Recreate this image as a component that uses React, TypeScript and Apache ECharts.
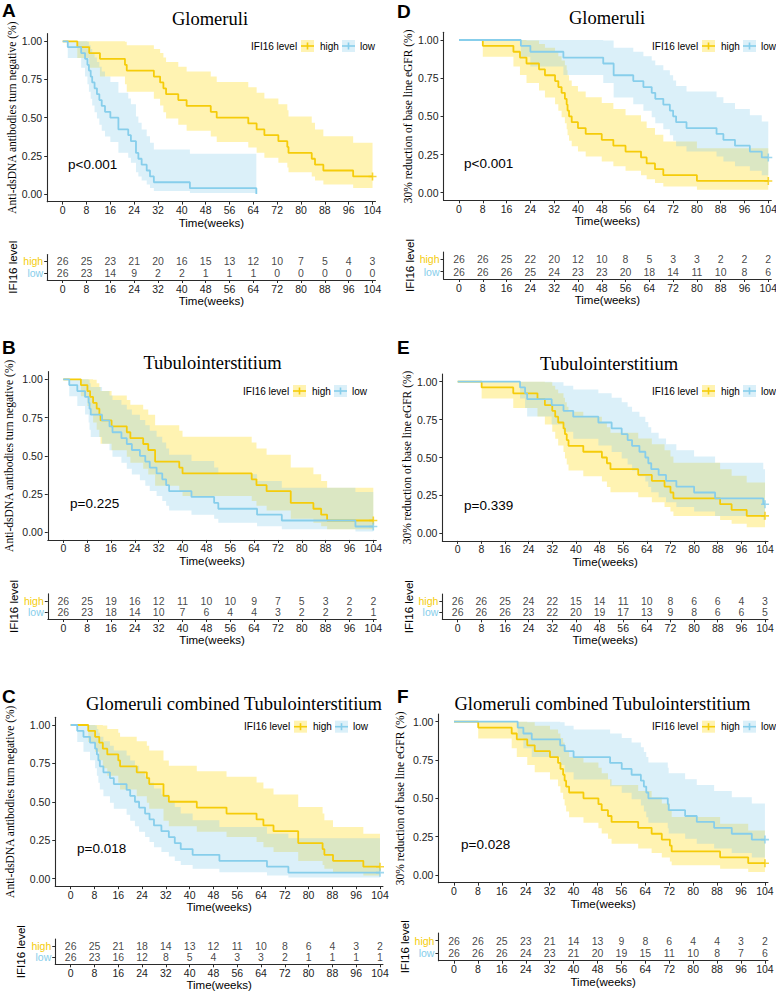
import React, { useEffect, useRef } from 'react';
import * as echarts from 'echarts';

// ---------- shared ticks / labels ----------
const TIME_TICKS = [0, 8, 16, 24, 32, 40, 48, 56, 64, 72, 80, 88, 96, 104];
const Y_TICKS = [0, 0.25, 0.5, 0.75, 1];
const GROUPS = ['high', 'low'];
const Y_TITLE_ANTI = 'Anti-dsDNA antibodies turn negative (%)';
const Y_TITLE_EGFR = '30% reduction of base line eGFR (%)';
const TITLES = ['Glomeruli', 'Glomeruli', 'Tubulointerstitium', 'Tubulointerstitium', 'Glomeruli combined Tubulointerstitium', 'Glomeruli combined Tubulointerstitium'];
const LETTERS = ['A', 'D', 'B', 'E', 'C', 'F'];
const P_VALUES = ['p<0.001', 'p<0.001', 'p=0.225', 'p=0.339', 'p=0.018', 'p=0.028'];

// ---------- Panel A (Glomeruli, anti-dsDNA) ----------
const A_HIGH_T = [0, 4.9, 8.9, 12.5, 20.9, 21.5, 30.6, 32.7, 33.8, 34.7, 38.8, 41.6, 49.7, 51.7, 62.3, 65.1, 67.7, 72.4, 75.4, 75.8, 83.6, 84.7, 87.5, 97.5, 104];
const A_HIGH_S = [1, 0.962, 0.923, 0.885, 0.846, 0.808, 0.769, 0.731, 0.692, 0.654, 0.615, 0.577, 0.538, 0.5, 0.462, 0.423, 0.385, 0.346, 0.308, 0.269, 0.231, 0.192, 0.154, 0.115, 0.115];
const A_HIGH_LO = [1, 0.89, 0.826, 0.77, 0.718, 0.67, 0.623, 0.579, 0.536, 0.494, 0.454, 0.415, 0.377, 0.341, 0.305, 0.27, 0.237, 0.204, 0.173, 0.143, 0.114, 0.088, 0.063, 0.04, 0.04];
const A_HIGH_HI = [1, 1, 1, 1, 0.997, 0.974, 0.949, 0.923, 0.894, 0.865, 0.834, 0.802, 0.769, 0.734, 0.699, 0.663, 0.625, 0.587, 0.548, 0.507, 0.466, 0.423, 0.379, 0.335, 0.335];
const A_LOW_T = [0, 1.7, 6.2, 7.5, 8.3, 8.8, 9.4, 9.9, 10.7, 11.5, 12.3, 13.1, 14.2, 16.0, 18.7, 22.0, 22.9, 24.6, 25.4, 26.5, 28.2, 29.3, 30.6, 42.7, 65];
const A_LOW_S = [1, 0.962, 0.923, 0.885, 0.846, 0.808, 0.769, 0.731, 0.692, 0.654, 0.615, 0.577, 0.538, 0.5, 0.423, 0.385, 0.346, 0.269, 0.231, 0.192, 0.154, 0.115, 0.077, 0.038, 0];
const A_LOW_LO = [1, 0.89, 0.826, 0.77, 0.718, 0.67, 0.623, 0.579, 0.536, 0.494, 0.454, 0.415, 0.377, 0.341, 0.27, 0.237, 0.204, 0.143, 0.114, 0.088, 0.063, 0.04, 0.02, 0.006, 0.006];
const A_LOW_HI = [1, 1, 1, 1, 0.997, 0.974, 0.949, 0.923, 0.894, 0.865, 0.834, 0.802, 0.769, 0.734, 0.663, 0.625, 0.587, 0.507, 0.466, 0.423, 0.379, 0.335, 0.291, 0.263, 0.263];
const A_RISK_HIGH = [26, 25, 23, 21, 20, 16, 15, 13, 12, 10, 7, 5, 4, 3];
const A_RISK_LOW = [26, 23, 14, 9, 2, 2, 1, 1, 1, 0, 0, 0, 0, 0];

// ---------- Panel D (Glomeruli, eGFR) ----------
const D_HIGH_T = [0, 8.0, 18.3, 20.5, 22.7, 26.9, 28.9, 32.3, 33.4, 34.5, 35.6, 36.2, 36.5, 37.0, 37.9, 40.0, 42.6, 48.0, 51.9, 56.0, 61.2, 63.1, 65.9, 68.7, 80.0, 104];
const D_HIGH_S = [1, 0.962, 0.923, 0.885, 0.846, 0.808, 0.769, 0.731, 0.692, 0.654, 0.615, 0.577, 0.538, 0.5, 0.462, 0.423, 0.385, 0.346, 0.308, 0.269, 0.231, 0.192, 0.154, 0.115, 0.077, 0.077];
const D_HIGH_LO = [1, 0.89, 0.826, 0.77, 0.718, 0.67, 0.623, 0.579, 0.536, 0.494, 0.454, 0.415, 0.377, 0.341, 0.305, 0.27, 0.237, 0.204, 0.173, 0.143, 0.114, 0.088, 0.063, 0.04, 0.02, 0.02];
const D_HIGH_HI = [1, 1, 1, 1, 0.997, 0.974, 0.949, 0.923, 0.894, 0.865, 0.834, 0.802, 0.769, 0.734, 0.699, 0.663, 0.625, 0.587, 0.548, 0.507, 0.466, 0.423, 0.379, 0.335, 0.291, 0.291];
const D_LOW_T = [0, 20.8, 24.0, 35.1, 48.5, 52.0, 58.6, 62.0, 64.8, 66.0, 68.7, 70.9, 72.0, 73.0, 76.5, 86.6, 88.9, 92.8, 97.8, 101.8, 104];
const D_LOW_S = [1, 0.962, 0.923, 0.885, 0.846, 0.769, 0.731, 0.692, 0.654, 0.615, 0.577, 0.538, 0.5, 0.462, 0.423, 0.385, 0.346, 0.308, 0.269, 0.231, 0.231];
const D_LOW_LO = [1, 0.89, 0.826, 0.77, 0.718, 0.623, 0.579, 0.536, 0.494, 0.454, 0.415, 0.377, 0.341, 0.305, 0.27, 0.237, 0.204, 0.173, 0.143, 0.114, 0.114];
const D_LOW_HI = [1, 1, 1, 1, 0.997, 0.949, 0.923, 0.894, 0.865, 0.834, 0.802, 0.769, 0.734, 0.699, 0.663, 0.625, 0.587, 0.548, 0.507, 0.466, 0.466];
const D_RISK_HIGH = [26, 26, 25, 22, 20, 12, 10, 8, 5, 3, 3, 2, 2, 2];
const D_RISK_LOW = [26, 26, 26, 25, 24, 23, 23, 20, 18, 14, 11, 10, 8, 6];

// ---------- Panel B (Tubulointerstitium, anti-dsDNA) ----------
const B_HIGH_T = [0, 5.9, 8.1, 9.0, 10.0, 11.2, 12.1, 12.5, 16.2, 21.3, 22.5, 26.8, 28.5, 30.8, 38.9, 40.0, 63.2, 64.8, 68.2, 76.3, 83.9, 86.5, 88.5, 104];
const B_HIGH_S = [1, 0.962, 0.923, 0.885, 0.846, 0.808, 0.769, 0.731, 0.692, 0.654, 0.615, 0.577, 0.538, 0.462, 0.423, 0.385, 0.346, 0.308, 0.269, 0.192, 0.154, 0.115, 0.077, 0.077];
const B_HIGH_LO = [1, 0.89, 0.826, 0.77, 0.718, 0.67, 0.623, 0.579, 0.536, 0.494, 0.454, 0.415, 0.377, 0.305, 0.27, 0.237, 0.204, 0.173, 0.143, 0.088, 0.063, 0.04, 0.02, 0.02];
const B_HIGH_HI = [1, 1, 1, 1, 0.997, 0.974, 0.949, 0.923, 0.894, 0.865, 0.834, 0.802, 0.769, 0.699, 0.663, 0.625, 0.587, 0.548, 0.507, 0.423, 0.379, 0.335, 0.291, 0.291];
const B_LOW_T = [0, 2.0, 4.7, 7.3, 8.5, 8.8, 9.2, 13.0, 15.5, 16.5, 19.5, 21.3, 23.0, 25.7, 27.5, 29.0, 31.3, 33.2, 34.5, 35.5, 43.0, 50.6, 52.0, 65.0, 73.3, 98.0, 104];
const B_LOW_S = [1, 0.962, 0.923, 0.885, 0.846, 0.808, 0.769, 0.731, 0.692, 0.654, 0.615, 0.577, 0.538, 0.5, 0.462, 0.423, 0.385, 0.346, 0.308, 0.269, 0.231, 0.192, 0.154, 0.115, 0.077, 0.038, 0.038];
const B_LOW_LO = [1, 0.89, 0.826, 0.77, 0.718, 0.67, 0.623, 0.579, 0.536, 0.494, 0.454, 0.415, 0.377, 0.341, 0.305, 0.27, 0.237, 0.204, 0.173, 0.143, 0.114, 0.088, 0.063, 0.04, 0.02, 0.006, 0.006];
const B_LOW_HI = [1, 1, 1, 1, 0.997, 0.974, 0.949, 0.923, 0.894, 0.865, 0.834, 0.802, 0.769, 0.734, 0.699, 0.663, 0.625, 0.587, 0.548, 0.507, 0.466, 0.423, 0.379, 0.335, 0.291, 0.263, 0.263];
const B_RISK_HIGH = [26, 25, 19, 16, 12, 11, 10, 10, 9, 7, 5, 3, 2, 2];
const B_RISK_LOW = [26, 23, 18, 14, 10, 7, 6, 4, 4, 3, 2, 2, 2, 1];

// ---------- Panel E (Tubulointerstitium, eGFR) ----------
const E_HIGH_T = [0, 8.1, 18.8, 27.0, 29.5, 32.0, 33.0, 34.0, 35.8, 36.3, 36.9, 37.5, 42.5, 48.8, 50.5, 51.7, 61.1, 65.7, 70.0, 72.0, 73.0, 88.8, 92.7, 97.8, 104];
const E_HIGH_S = [1, 0.962, 0.923, 0.885, 0.846, 0.808, 0.769, 0.731, 0.692, 0.654, 0.615, 0.577, 0.538, 0.5, 0.462, 0.423, 0.385, 0.346, 0.308, 0.269, 0.231, 0.192, 0.154, 0.115, 0.115];
const E_HIGH_LO = [1, 0.89, 0.826, 0.77, 0.718, 0.67, 0.623, 0.579, 0.536, 0.494, 0.454, 0.415, 0.377, 0.341, 0.305, 0.27, 0.237, 0.204, 0.173, 0.143, 0.114, 0.088, 0.063, 0.04, 0.04];
const E_HIGH_HI = [1, 1, 1, 1, 0.997, 0.974, 0.949, 0.923, 0.894, 0.865, 0.834, 0.802, 0.769, 0.734, 0.699, 0.663, 0.625, 0.587, 0.548, 0.507, 0.466, 0.423, 0.379, 0.335, 0.335];
const E_LOW_T = [0, 21.1, 22.8, 23.5, 31.8, 35.8, 39.1, 47.6, 52.1, 55.5, 57.5, 59.0, 61.5, 63.5, 64.5, 65.5, 68.0, 70.5, 74.0, 80.0, 87.1, 103.4, 104];
const E_LOW_S = [1, 0.962, 0.923, 0.885, 0.846, 0.808, 0.769, 0.731, 0.692, 0.654, 0.615, 0.577, 0.538, 0.5, 0.462, 0.423, 0.385, 0.346, 0.308, 0.269, 0.231, 0.192, 0.192];
const E_LOW_LO = [1, 0.89, 0.826, 0.77, 0.718, 0.67, 0.623, 0.579, 0.536, 0.494, 0.454, 0.415, 0.377, 0.341, 0.305, 0.27, 0.237, 0.204, 0.173, 0.143, 0.114, 0.088, 0.088];
const E_LOW_HI = [1, 1, 1, 1, 0.997, 0.974, 0.949, 0.923, 0.894, 0.865, 0.834, 0.802, 0.769, 0.734, 0.699, 0.663, 0.625, 0.587, 0.548, 0.507, 0.466, 0.423, 0.423];
const E_RISK_HIGH = [26, 26, 25, 24, 22, 15, 14, 11, 10, 8, 6, 6, 4, 3];
const E_RISK_LOW = [26, 26, 26, 23, 22, 20, 19, 17, 13, 9, 8, 6, 6, 5];

// ---------- Panel C (combined, anti-dsDNA) ----------
const C_HIGH_T = [0, 5.9, 8.2, 9.6, 10.8, 12.3, 16.0, 16.6, 22.2, 25.6, 26.4, 31.2, 33.0, 42.4, 52.4, 62.5, 64.8, 68.2, 76.5, 84.7, 85.3, 88.2, 98.4, 104];
const C_HIGH_S = [1, 0.962, 0.923, 0.885, 0.846, 0.808, 0.769, 0.731, 0.692, 0.654, 0.615, 0.538, 0.5, 0.462, 0.423, 0.385, 0.346, 0.308, 0.231, 0.192, 0.154, 0.115, 0.077, 0.077];
const C_HIGH_LO = [1, 0.89, 0.826, 0.77, 0.718, 0.67, 0.623, 0.579, 0.536, 0.494, 0.454, 0.377, 0.341, 0.305, 0.27, 0.237, 0.204, 0.173, 0.114, 0.088, 0.063, 0.04, 0.02, 0.02];
const C_HIGH_HI = [1, 1, 1, 1, 0.997, 0.974, 0.949, 0.923, 0.894, 0.865, 0.834, 0.769, 0.734, 0.699, 0.663, 0.625, 0.587, 0.548, 0.466, 0.423, 0.379, 0.335, 0.291, 0.291];
const C_LOW_T = [0, 2.2, 4.3, 6.5, 8.2, 8.8, 9.3, 9.8, 11.0, 13.2, 14.5, 18.8, 20.0, 21.6, 23.0, 25.0, 26.5, 28.0, 30.5, 33.0, 35.0, 37.0, 41.0, 50.0, 66.0, 73.2, 104];
const C_LOW_S = [1, 0.962, 0.923, 0.885, 0.846, 0.808, 0.769, 0.731, 0.692, 0.654, 0.615, 0.577, 0.538, 0.5, 0.462, 0.423, 0.385, 0.346, 0.308, 0.269, 0.231, 0.192, 0.154, 0.115, 0.077, 0.038, 0.038];
const C_LOW_LO = [1, 0.89, 0.826, 0.77, 0.718, 0.67, 0.623, 0.579, 0.536, 0.494, 0.454, 0.415, 0.377, 0.341, 0.305, 0.27, 0.237, 0.204, 0.173, 0.143, 0.114, 0.088, 0.063, 0.04, 0.02, 0.006, 0.006];
const C_LOW_HI = [1, 1, 1, 1, 0.997, 0.974, 0.949, 0.923, 0.894, 0.865, 0.834, 0.802, 0.769, 0.734, 0.699, 0.663, 0.625, 0.587, 0.548, 0.507, 0.466, 0.423, 0.379, 0.335, 0.291, 0.263, 0.263];
const C_RISK_HIGH = [26, 25, 21, 18, 14, 13, 12, 11, 10, 8, 6, 4, 3, 2];
const C_RISK_LOW = [26, 23, 16, 12, 8, 5, 4, 3, 3, 2, 1, 1, 1, 1];

// ---------- Panel F (combined, eGFR) ----------
const F_HIGH_T = [0, 8.1, 19.3, 21.0, 24.5, 27.0, 32.1, 34.8, 35.6, 36.5, 37.0, 37.5, 38.5, 43.3, 48.3, 49.4, 51.5, 52.7, 61.6, 66.1, 69.5, 72.2, 72.8, 89.0, 98.4, 104];
const F_HIGH_S = [1, 0.962, 0.923, 0.885, 0.846, 0.808, 0.769, 0.731, 0.692, 0.654, 0.615, 0.577, 0.538, 0.5, 0.462, 0.423, 0.385, 0.346, 0.308, 0.269, 0.231, 0.192, 0.154, 0.115, 0.077, 0.077];
const F_HIGH_LO = [1, 0.89, 0.826, 0.77, 0.718, 0.67, 0.623, 0.579, 0.536, 0.494, 0.454, 0.415, 0.377, 0.341, 0.305, 0.27, 0.237, 0.204, 0.173, 0.143, 0.114, 0.088, 0.063, 0.04, 0.02, 0.02];
const F_HIGH_HI = [1, 1, 1, 1, 0.997, 0.974, 0.949, 0.923, 0.894, 0.865, 0.834, 0.802, 0.769, 0.734, 0.699, 0.663, 0.625, 0.587, 0.548, 0.507, 0.466, 0.423, 0.379, 0.335, 0.291, 0.291];
const F_LOW_T = [0, 21.3, 23.2, 26.0, 35.5, 37.0, 40.0, 52.2, 56.1, 59.4, 62.5, 63.5, 64.3, 65.0, 71.5, 71.8, 77.3, 81.2, 87.0, 92.9, 99.6, 104];
const F_LOW_S = [1, 0.962, 0.923, 0.885, 0.846, 0.808, 0.769, 0.731, 0.692, 0.654, 0.615, 0.577, 0.538, 0.5, 0.462, 0.423, 0.385, 0.346, 0.308, 0.269, 0.231, 0.231];
const F_LOW_LO = [1, 0.89, 0.826, 0.77, 0.718, 0.67, 0.623, 0.579, 0.536, 0.494, 0.454, 0.415, 0.377, 0.341, 0.305, 0.27, 0.237, 0.204, 0.173, 0.143, 0.114, 0.114];
const F_LOW_HI = [1, 1, 1, 1, 0.997, 0.974, 0.949, 0.923, 0.894, 0.865, 0.834, 0.802, 0.769, 0.734, 0.699, 0.663, 0.625, 0.587, 0.548, 0.507, 0.466, 0.466];
const F_RISK_HIGH = [26, 26, 25, 23, 21, 14, 13, 9, 8, 6, 4, 4, 3, 2];
const F_RISK_LOW = [26, 26, 26, 24, 23, 21, 20, 19, 15, 11, 10, 8, 7, 6];

// censored marks at end of follow-up (time)
const CENSOR_HIGH = [104, 104, 104, 104, 104, 104];
const CENSOR_LOW = [null, 104, 104, 104, 104, 104];

// ---------- styling ----------
const HIGH_COLOR = '#F5CC0A';
const LOW_COLOR = '#87CEEB';
const HIGH_BAND = 'rgba(255,215,0,0.3)';
const LOW_BAND = 'rgba(135,206,235,0.3)';
const AXIS_COLOR = '#2b2b2b';
const SANS = '"Liberation Sans", Arial, Helvetica, sans-serif';
const SERIF = '"Liberation Serif", "Times New Roman", serif';

// layout (pixels) per panel, order A D B E C F
const LAYOUT = [
  { x0: 62.7, k: 2.979, y1: 41.3, y0: 194, yGap: 28.5, tAxis: 280, tRow: 11.6, tGap: 26.7, letter: [2, 10], title: [210, 19], p: [68, 164], legend: [251, 46] },
  { x0: 459, k: 2.974, y1: 40, y0: 192.7, yGap: 24.7, tAxis: 279, tRow: 12.3, tGap: 26, letter: [397, 11], title: [607, 18], p: [464, 163], legend: [652, 46] },
  { x0: 63.3, k: 2.981, y1: 379.3, y0: 532.3, yGap: 33, tAxis: 619, tRow: 11.4, tGap: 21.6, letter: [2, 347.5], title: [212.5, 363], p: [70, 503], legend: [243, 391] },
  { x0: 457.7, k: 2.955, y1: 381.7, y0: 533.3, yGap: 26.5, tAxis: 619.3, tRow: 11.5, tGap: 26.7, letter: [397, 347.5], title: [609, 364], p: [464, 505], legend: [652, 391] },
  { x0: 70.7, k: 2.974, y1: 725, y0: 878.5, yGap: 39.5, tAxis: 964.3, tRow: 11.5, tGap: 26.4, letter: [2, 696.7], title: [234, 704], p: [77, 848], legend: [244, 726.7] },
  { x0: 454, k: 2.99, y1: 721.7, y0: 875, yGap: 32.8, tAxis: 960.7, tRow: 12.6, tGap: 24.7, letter: [397, 696.7], title: [602.5, 704], p: [461, 844], legend: [652, 726.7] },
];

const PANELS = [
  { yTitle: Y_TITLE_ANTI, high: [A_HIGH_T, A_HIGH_S, A_HIGH_LO, A_HIGH_HI], low: [A_LOW_T, A_LOW_S, A_LOW_LO, A_LOW_HI], risk: [A_RISK_HIGH, A_RISK_LOW] },
  { yTitle: Y_TITLE_EGFR, high: [D_HIGH_T, D_HIGH_S, D_HIGH_LO, D_HIGH_HI], low: [D_LOW_T, D_LOW_S, D_LOW_LO, D_LOW_HI], risk: [D_RISK_HIGH, D_RISK_LOW] },
  { yTitle: Y_TITLE_ANTI, high: [B_HIGH_T, B_HIGH_S, B_HIGH_LO, B_HIGH_HI], low: [B_LOW_T, B_LOW_S, B_LOW_LO, B_LOW_HI], risk: [B_RISK_HIGH, B_RISK_LOW] },
  { yTitle: Y_TITLE_EGFR, high: [E_HIGH_T, E_HIGH_S, E_HIGH_LO, E_HIGH_HI], low: [E_LOW_T, E_LOW_S, E_LOW_LO, E_LOW_HI], risk: [E_RISK_HIGH, E_RISK_LOW] },
  { yTitle: Y_TITLE_ANTI, high: [C_HIGH_T, C_HIGH_S, C_HIGH_LO, C_HIGH_HI], low: [C_LOW_T, C_LOW_S, C_LOW_LO, C_LOW_HI], risk: [C_RISK_HIGH, C_RISK_LOW] },
  { yTitle: Y_TITLE_EGFR, high: [F_HIGH_T, F_HIGH_S, F_HIGH_LO, F_HIGH_HI], low: [F_LOW_T, F_LOW_S, F_LOW_LO, F_LOW_HI], risk: [F_RISK_HIGH, F_RISK_LOW] },
];

const PLUS = 'path://M4,0h2v4h4v2h-4v4h-2v-4h-4v-2h4z';

function bandSeries(idx: number, T: number[], LO: number[], HI: number[], fill: string) {
  return {
    type: 'custom',
    xAxisIndex: idx,
    yAxisIndex: idx,
    silent: true,
    z: 1,
    data: [[T[0], LO[0]]],
    renderItem: (_params: any, api: any) => {
      const pts: number[][] = [];
      for (let i = 0; i < T.length - 1; i++) {
        pts.push(api.coord([T[i], HI[i]]));
        pts.push(api.coord([T[i + 1], HI[i]]));
      }
      for (let i = T.length - 2; i >= 0; i--) {
        pts.push(api.coord([T[i + 1], LO[i]]));
        pts.push(api.coord([T[i], LO[i]]));
      }
      return { type: 'polygon', shape: { points: pts }, style: { fill } };
    },
  };
}

function curveSeries(idx: number, name: string, T: number[], S: number[], color: string) {
  return {
    type: 'line',
    name,
    xAxisIndex: idx,
    yAxisIndex: idx,
    step: 'end',
    symbol: 'none',
    showSymbol: false,
    silent: true,
    z: 3,
    lineStyle: { color, width: 1.8 },
    data: T.map((t, i) => [t, S[i]]),
  };
}

function censorSeries(idx: number, t: number | null, S: number[], color: string) {
  return {
    type: 'scatter',
    xAxisIndex: idx,
    yAxisIndex: idx,
    symbol: PLUS,
    symbolSize: 8,
    silent: true,
    z: 4,
    itemStyle: { color },
    data: t === null ? [] : [[t, S[S.length - 1]]],
  };
}

function xAxisCfg(gi: number, gap: number) {
  return {
    gridIndex: gi,
    type: 'value',
    min: -5.2,
    max: 105,
    axisLine: { show: true, onZero: false, lineStyle: { color: AXIS_COLOR, width: 1.1 } },
    axisTick: { show: true, length: 3, customValues: TIME_TICKS, lineStyle: { color: AXIS_COLOR } },
    axisLabel: { customValues: TIME_TICKS, fontSize: 10.5, color: '#222', margin: 3, fontFamily: SANS },
    splitLine: { show: false },
    name: 'Time(weeks)',
    nameLocation: 'middle',
    nameGap: gap,
    nameTextStyle: { fontSize: 11.5, color: '#000', fontFamily: SANS },
  };
}

function buildOption() {
  const grid: any[] = [];
  const xAxis: any[] = [];
  const yAxis: any[] = [];
  const series: any[] = [];
  const graphic: any[] = [];

  PANELS.forEach((P, p) => {
    const L = LAYOUT[p];
    const left = L.x0 - 5.2 * L.k;
    const width = 110.2 * L.k;
    const unit = L.y0 - L.y1;
    const mi = 2 * p;
    const ti = 2 * p + 1;
    grid.push({ left, width, top: L.y1 - 0.05 * unit, height: 1.1 * unit, containLabel: false, outerBoundsMode: 'none' });
    grid.push({ left, width, top: L.tAxis - 2.2 * L.tRow, height: 2.2 * L.tRow, containLabel: false, outerBoundsMode: 'none' });

    xAxis.push(xAxisCfg(mi, 13.8));
    xAxis.push(xAxisCfg(ti, 14));

    yAxis.push({
      gridIndex: mi,
      type: 'value',
      min: -0.05,
      max: 1.05,
      axisLine: { show: true, onZero: false, lineStyle: { color: AXIS_COLOR, width: 1.1 } },
      axisTick: { show: true, length: 3, customValues: Y_TICKS, lineStyle: { color: AXIS_COLOR } },
      axisLabel: { customValues: Y_TICKS, fontSize: 10.5, color: '#222', margin: 5, fontFamily: SANS, formatter: (v: number) => v.toFixed(2) },
      splitLine: { show: false },
      name: P.yTitle,
      nameLocation: 'middle',
      nameRotate: 90,
      nameGap: L.yGap,
      nameTextStyle: { fontSize: 11.5, color: '#000', fontFamily: SERIF },
    });
    yAxis.push({
      gridIndex: ti,
      type: 'value',
      min: 0.4,
      max: 2.6,
      axisLine: { show: true, onZero: false, lineStyle: { color: AXIS_COLOR, width: 1.1 } },
      axisTick: { show: true, length: 3, customValues: [1, 2], lineStyle: { color: AXIS_COLOR } },
      axisLabel: {
        customValues: [1, 2],
        margin: 4,
        formatter: (v: number) => (v === 2 ? '{h|' + GROUPS[0] + '}' : '{l|' + GROUPS[1] + '}'),
        rich: {
          h: { color: HIGH_COLOR, fontSize: 10.5, fontFamily: SANS },
          l: { color: LOW_COLOR, fontSize: 10.5, fontFamily: SANS },
        },
      },
      splitLine: { show: false },
      name: 'IFI16 level',
      nameLocation: 'middle',
      nameRotate: 90,
      nameGap: L.tGap,
      nameTextStyle: { fontSize: 11.5, color: '#000', fontFamily: SANS },
    });

    const [hT, hS, hLO, hHI] = P.high;
    const [lT, lS, lLO, lHI] = P.low;
    series.push(bandSeries(mi, hT, hLO, hHI, HIGH_BAND));
    series.push(bandSeries(mi, lT, lLO, lHI, LOW_BAND));
    series.push(curveSeries(mi, GROUPS[0], hT, hS, HIGH_COLOR));
    series.push(curveSeries(mi, GROUPS[1], lT, lS, LOW_COLOR));
    series.push(censorSeries(mi, CENSOR_HIGH[p], hS, HIGH_COLOR));
    series.push(censorSeries(mi, CENSOR_LOW[p], lS, LOW_COLOR));

    // risk table
    [0, 1].forEach((g) => {
      series.push({
        type: 'scatter',
        xAxisIndex: ti,
        yAxisIndex: ti,
        symbolSize: 1,
        silent: true,
        itemStyle: { color: 'rgba(0,0,0,0)' },
        label: {
          show: true,
          position: 'inside',
          formatter: (prm: any) => String(prm.value[2]),
          fontSize: 10.5,
          color: '#111',
          fontFamily: SANS,
        },
        data: TIME_TICKS.map((t, i) => [t, g === 0 ? 2 : 1, P.risk[g][i]]),
      });
    });

    // texts
    graphic.push({ type: 'text', x: L.letter[0], y: L.letter[1], style: { text: LETTERS[p], fontSize: 19, fontWeight: 'bold', fontFamily: SANS, fill: '#000', align: 'left', verticalAlign: 'middle' } });
    graphic.push({ type: 'text', x: L.title[0], y: L.title[1], style: { text: TITLES[p], fontSize: 18.5, fontFamily: SERIF, fill: '#000', align: 'center', verticalAlign: 'middle' } });
    graphic.push({ type: 'text', x: L.p[0], y: L.p[1], style: { text: P_VALUES[p], fontSize: 13.5, fontFamily: SANS, fill: '#000', align: 'left', verticalAlign: 'middle' } });
    const [lx, ly] = L.legend;
    graphic.push({ type: 'text', x: lx, y: ly, style: { text: 'IFI16 level', fontSize: 10, fontFamily: SANS, fill: '#000', align: 'left', verticalAlign: 'middle' } });
    const items = [
      { ix: lx + 50, tx: lx + 69, label: GROUPS[0], band: HIGH_BAND, color: HIGH_COLOR },
      { ix: lx + 91, tx: lx + 109, label: GROUPS[1], band: LOW_BAND, color: LOW_COLOR },
    ];
    items.forEach((it) => {
      graphic.push({ type: 'rect', x: it.ix, y: ly - 6, shape: { width: 13, height: 12 }, style: { fill: it.band }, silent: true });
      graphic.push({ type: 'line', shape: { x1: it.ix, y1: ly, x2: it.ix + 13, y2: ly }, style: { stroke: it.color, lineWidth: 1.6 }, silent: true });
      graphic.push({ type: 'line', shape: { x1: it.ix + 6.5, y1: ly - 3.5, x2: it.ix + 6.5, y2: ly + 3.5 }, style: { stroke: it.color, lineWidth: 1.6 }, silent: true });
      graphic.push({ type: 'text', x: it.tx, y: ly, style: { text: it.label, fontSize: 10, fontFamily: SANS, fill: '#000', align: 'left', verticalAlign: 'middle' } });
    });
  });

  return {
    animation: false,
    backgroundColor: '#ffffff',
    grid,
    xAxis,
    yAxis,
    series,
    graphic,
  };
}

export default function App() {
  const ref = useRef<HTMLDivElement>(null);
  useEffect(() => {
    if (!ref.current) return;
    const chart = echarts.init(ref.current, null, { renderer: 'svg', width: 776, height: 992 });
    chart.setOption(buildOption() as any);
    return () => chart.dispose();
  }, []);
  return (
    <div
      ref={ref}
      style={{ position: 'fixed', left: 0, top: 0, width: 776, height: 992, background: '#fff' }}
    />
  );
}
